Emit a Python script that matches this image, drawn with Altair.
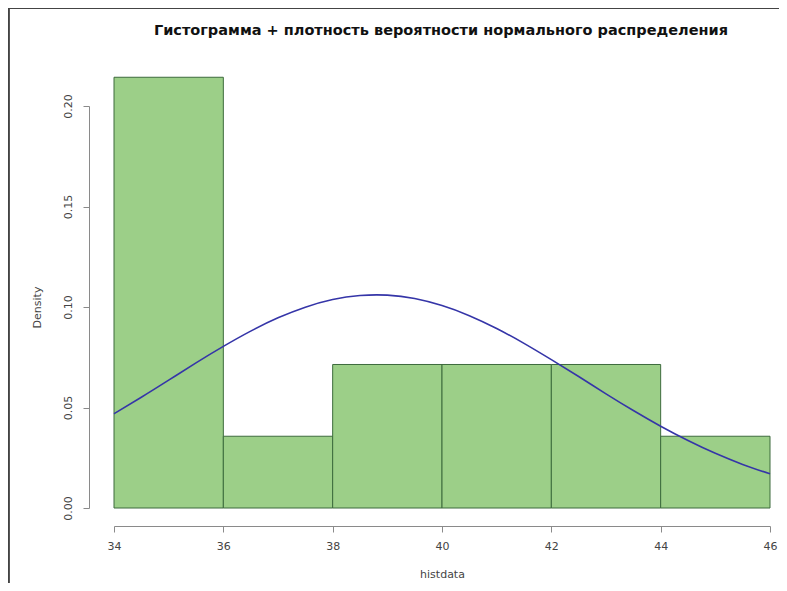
import altair as alt
import pandas as pd

bin_start = [34, 36, 38, 40, 42, 44]
bin_end = [36, 38, 40, 42, 44, 46]
density = [0.2143, 0.0357, 0.0714, 0.0714, 0.0714, 0.0357]

curve_x = [34, 34.5, 35, 35.5, 36, 36.5, 37, 37.5, 38, 38.5, 39, 39.5, 40,
           40.5, 41, 41.5, 42, 42.5, 43, 43.5, 44, 44.5, 45, 45.5, 46]
curve_y = [0.0469, 0.0551, 0.0636, 0.0722, 0.0804, 0.0880, 0.0946, 0.0999,
           0.1037, 0.1057, 0.1059, 0.1042, 0.1007, 0.0957, 0.0893, 0.0819,
           0.0738, 0.0654, 0.0568, 0.0485, 0.0407, 0.0336, 0.0272, 0.0217,
           0.0170]

x_ticks = [34, 36, 38, 40, 42, 44, 46]
y_ticks = [0.0, 0.05, 0.10, 0.15, 0.20]

title_text = "Гистограмма + плотность вероятности нормального распределения"

bars = pd.DataFrame({"start": bin_start, "end": bin_end, "density": density})
curve = pd.DataFrame({"x": curve_x, "y": curve_y})
title_df = pd.DataFrame({"t": [title_text]})

FONT = "DejaVu Sans"

xscale = alt.Scale(domain=[34, 46], nice=False, zero=False)
yscale = alt.Scale(domain=[0, 0.2], nice=False)

xaxis = alt.Axis(values=x_ticks, title="histdata", offset=18, grid=False,
                 domainColor="#8a8a8a", tickColor="#8a8a8a", tickSize=6,
                 labelColor="#444444", labelFont=FONT, labelFontSize=11,
                 labelPadding=8, labelFlush=False,
                 titleColor="#444444", titleFont=FONT,
                 titleFontSize=11, titleFontWeight="normal", titlePadding=17,
                 format="d")
yaxis = alt.Axis(values=y_ticks, title="Density", offset=25, grid=False,
                 domainColor="#8a8a8a", tickColor="#8a8a8a", tickSize=6,
                 labelColor="#444444", labelFont=FONT, labelFontSize=11,
                 labelAngle=-90, labelAlign="center", labelBaseline="bottom",
                 labelPadding=10, labelFlush=False, format=".2f",
                 titleColor="#444444", titleFont=FONT, titleFontSize=11,
                 titleFontWeight="normal", titlePadding=20)

hist = alt.Chart(bars).mark_rect(
    fill="#9ccf88", stroke="#3d6b3d", strokeWidth=1, clip=False
).encode(
    x=alt.X("start:Q", scale=xscale, axis=xaxis),
    x2="end:Q",
    y=alt.Y("density:Q", scale=yscale, axis=yaxis),
    y2=alt.datum(0),
)

line = alt.Chart(curve).mark_line(
    color="#3535a8", strokeWidth=1.6, clip=False, interpolate="natural"
).encode(
    x=alt.X("x:Q", scale=xscale),
    y=alt.Y("y:Q", scale=yscale),
)

title_mark = alt.Chart(title_df).mark_text(
    font=FONT, fontSize=14.5, fontWeight="bold", color="#111111",
    align="center", baseline="middle"
).encode(text="t:N", x=alt.value(327), y=alt.value(-75))

frame_top = alt.Chart(bars).mark_rule(color="#444444", strokeWidth=2).encode(
    x=alt.value(-106), x2=alt.value(690), y=alt.value(-98)
)
frame_left = alt.Chart(bars).mark_rule(color="#444444", strokeWidth=1.6).encode(
    x=alt.value(-105.5), y=alt.value(-97), y2=alt.value(500)
)

chart = alt.layer(hist, line, title_mark, frame_top, frame_left).properties(
    width=656,
    height=402,
    padding={"left": 106, "top": 98, "right": 9, "bottom": 75},
    autosize=alt.AutoSizeParams(type="none"),
    background="white",
).configure_view(stroke=None, strokeWidth=0)

chart.save("out.html", embed_options={"renderer": "svg", "actions": False})
